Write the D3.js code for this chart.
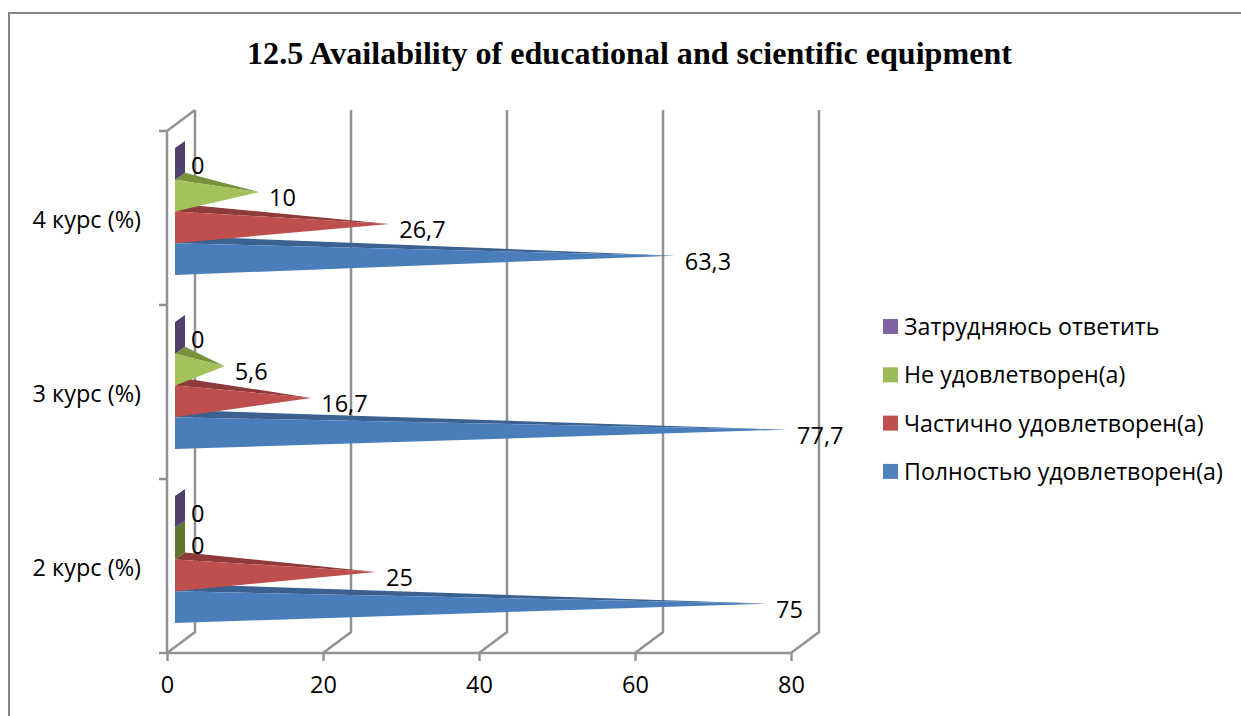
<!DOCTYPE html>
<html>
<head>
<meta charset="utf-8">
<script src="https://cdn.jsdelivr.net/npm/d3@7"></script>
<style>
  html, body { margin: 0; padding: 0; background: #fff; }
  svg { display: block; }
  text { fill: #000; font-family: "Open Sans", sans-serif; }
</style>
</head>
<body>
<svg id="chart" width="1241" height="716"></svg>
<script>
// Chart data, top category first
const categories = ["4 курс (%)", "3 курс (%)", "2 курс (%)"];
const seriesNames = ["Затрудняюсь ответить", "Не удовлетворен(а)", "Частично удовлетворен(а)", "Полностью удовлетворен(а)"];
const hardToSay = [0, 0, 0];
const notSatisfied = [10, 5.6, 0];
const partlySatisfied = [26.7, 16.7, 25];
const fullySatisfied = [63.3, 77.7, 75];
const xTicks = [0, 20, 40, 60, 80];
const titleText = "12.5 Availability of educational and scientific equipment";

const seriesValues = [hardToSay, notSatisfied, partlySatisfied, fullySatisfied];
const faceColors = ["#8064a2", "#a2c35b", "#be4f4c", "#4a7ebb"];
const topColors = ["#7a6a94", "#76923c", "#8e3a38", "#3a618f"];
const zeroColors = ["#533f6e", "#5f7530", "#8e3a38", "#3a618f"];
const legendColors = ["#8064a2", "#9bbb59", "#c0504d", "#4f81bd"];

const svg = d3.select("#chart");
const gridColor = "#929292";
const gridWidth = 2.5;
const labelSize = "23.5px";

// Frame, open on the right and at the bottom
svg.append("path")
  .attr("d", "M9,716V13H1241")
  .attr("fill", "none")
  .attr("stroke", "#868686")
  .attr("stroke-width", 2);

svg.append("text")
  .attr("x", 629.5)
  .attr("y", 64)
  .attr("text-anchor", "middle")
  .style("font-family", "'Liberation Serif', serif")
  .style("font-weight", "bold")
  .style("font-size", "32.1px")
  .text(titleText);

// Scales
const x = d3.scaleLinear().domain([0, 80]).range([167, 791]);
const y = d3.scaleBand().domain(categories).range([131, 653]);
const inner = d3.scaleBand().domain(seriesNames).range([17, 144]);

// 3D depth of the walls and of the cones
const wallDx = 28, wallDy = -21;
const coneLeft = 8, coneDepthX = 10, coneDepthY = -7, tipShift = 14;

// Walls: gridlines on the back, floor diagonals
const walls = svg.append("g");
xTicks.forEach((t) => {
  walls.append("path")
    .attr("d", `M${x(t)},653L${x(t) + wallDx},${653 + wallDy}V${131 + wallDy}`)
    .attr("fill", "none")
    .attr("stroke", gridColor)
    .attr("stroke-width", gridWidth);
});
walls.append("path")
  .attr("d", `M${x(0)},131L${x(0) + wallDx},${131 + wallDy}`)
  .attr("fill", "none")
  .attr("stroke", gridColor)
  .attr("stroke-width", gridWidth);

// Axes
const xAxis = svg.append("g")
  .attr("transform", "translate(0,653)")
  .call(d3.axisBottom(x).tickValues(xTicks).tickSize(8).tickSizeOuter(0));
xAxis.select(".domain").remove();
xAxis.selectAll("line").attr("stroke", gridColor).attr("stroke-width", gridWidth);
xAxis.selectAll("text")
  .attr("y", 0)
  .attr("dy", "40px")
  .style("font-size", labelSize)
  .style("font-family", "'Open Sans', sans-serif");

const yAxis = svg.append("g")
  .attr("transform", "translate(141,2)")
  .call(d3.axisLeft(y).tickSize(0).tickPadding(0));
yAxis.select(".domain").remove();
yAxis.selectAll("text")
  .style("font-size", labelSize)
  .style("font-family", "'Open Sans', sans-serif");

svg.append("line")
  .attr("x1", 159).attr("x2", 791).attr("y1", 653).attr("y2", 653)
  .attr("stroke", gridColor).attr("stroke-width", gridWidth);
svg.append("line")
  .attr("x1", x(0)).attr("x2", x(0)).attr("y1", 131).attr("y2", 653)
  .attr("stroke", gridColor).attr("stroke-width", gridWidth);
svg.selectAll(".ytick")
  .data(d3.range(categories.length))
  .enter().append("line")
  .attr("class", "ytick")
  .attr("x1", 159).attr("x2", x(0))
  .attr("y1", (i) => y.range()[0] + i * y.step())
  .attr("y2", (i) => y.range()[0] + i * y.step())
  .attr("stroke", gridColor).attr("stroke-width", gridWidth);

// Flatten to one cone per category and series, drawn bottom up
let cones = [];
categories.forEach((cat, c) => {
  seriesNames.forEach((name, s) => {
    cones.push({ cat: cat, name: name, s: s, value: seriesValues[s][c] });
  });
});
cones.reverse();

const baseX = x(0) + coneLeft;
const h = inner.bandwidth();
const coneTop = (d) => y(d.cat) + inner(d.name);
const tipX = (d) => x(d.value) + tipShift;
const tipY = (d) => coneTop(d) + h / 2 + coneDepthY / 2;

const coneGroups = svg.append("g").selectAll("g")
  .data(cones).enter().append("g");

// Zero values only show the flat base of the cone
coneGroups.filter((d) => d.value === 0).append("polygon")
  .attr("points", (d) => [
    [baseX, coneTop(d)], [baseX + coneDepthX, coneTop(d) + coneDepthY],
    [baseX + coneDepthX, coneTop(d) + h + coneDepthY], [baseX, coneTop(d) + h]
  ].join(" "))
  .attr("fill", (d) => zeroColors[d.s]);

const solid = coneGroups.filter((d) => d.value > 0);
solid.append("polygon")
  .attr("points", (d) => [
    [baseX, coneTop(d)], [baseX + coneDepthX, coneTop(d) + coneDepthY], [tipX(d), tipY(d)]
  ].join(" "))
  .attr("fill", (d) => topColors[d.s]);
solid.append("polygon")
  .attr("points", (d) => [
    [baseX, coneTop(d)], [baseX, coneTop(d) + h], [tipX(d), tipY(d)]
  ].join(" "))
  .attr("fill", (d) => faceColors[d.s]);

// Data labels
svg.append("g").selectAll("text")
  .data(cones).enter().append("text")
  .attr("x", (d) => tipX(d) + 10)
  .attr("y", (d) => tipY(d) + 14)
  .style("font-size", labelSize)
  .text((d) => String(d.value).replace(".", ","));

// Legend
const legend = svg.append("g").selectAll("g")
  .data(seriesNames).enter().append("g")
  .attr("transform", (d, i) => `translate(883,${319 + i * 48.3})`);
legend.append("rect")
  .attr("width", 15).attr("height", 15)
  .attr("fill", (d, i) => legendColors[i]);
legend.append("text")
  .attr("x", 21)
  .attr("y", 16)
  .style("font-size", "23.2px")
  .text((d) => d);
</script>
</body>
</html>
